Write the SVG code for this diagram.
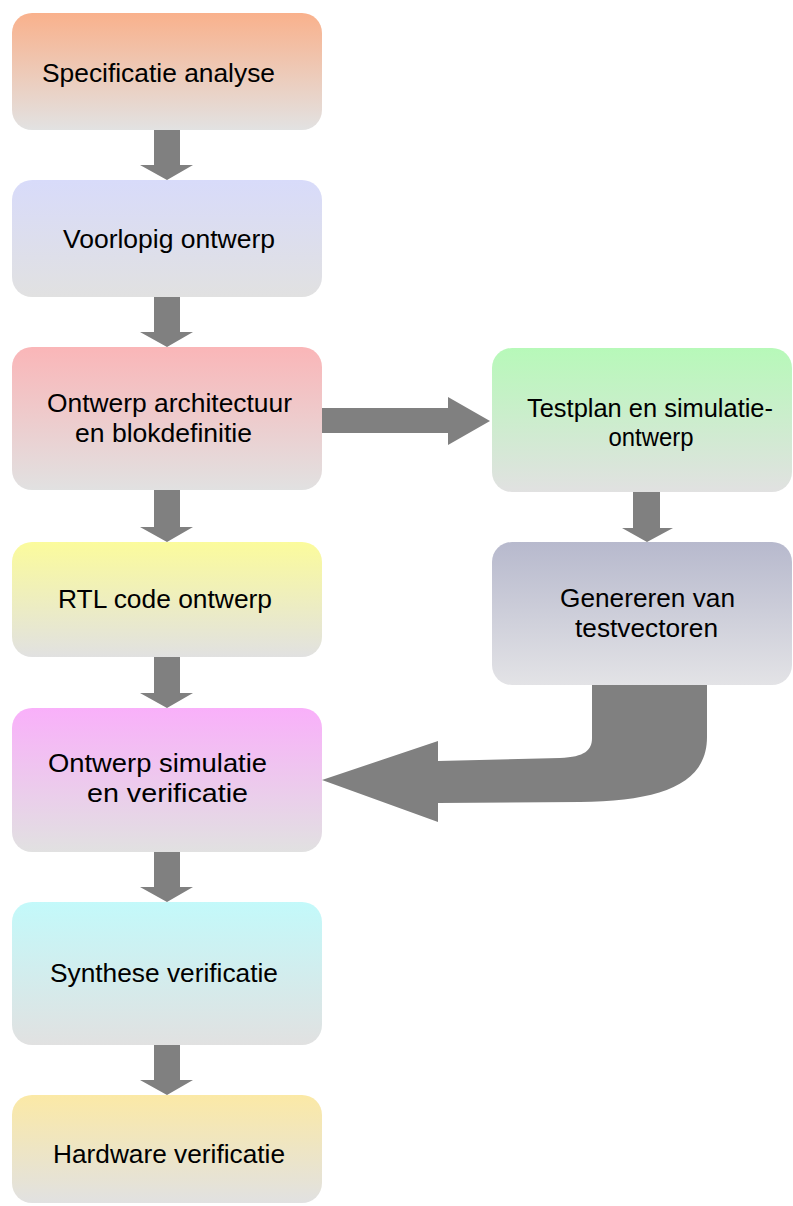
<svg xmlns="http://www.w3.org/2000/svg" width="793" height="1206" viewBox="0 0 793 1206">
<defs>
<linearGradient id="g1" x1="0" y1="0" x2="0" y2="1"><stop offset="0" stop-color="#f9b18c"/><stop offset="1" stop-color="#e2e2e2"/></linearGradient>
<linearGradient id="g2" x1="0" y1="0" x2="0" y2="1"><stop offset="0" stop-color="#d8dbfa"/><stop offset="1" stop-color="#e1e1e1"/></linearGradient>
<linearGradient id="g3" x1="0" y1="0" x2="0" y2="1"><stop offset="0" stop-color="#fab6b8"/><stop offset="1" stop-color="#e1e1e1"/></linearGradient>
<linearGradient id="g4" x1="0" y1="0" x2="0" y2="1"><stop offset="0" stop-color="#fbfb9c"/><stop offset="1" stop-color="#e1e1e1"/></linearGradient>
<linearGradient id="g5" x1="0" y1="0" x2="0" y2="1"><stop offset="0" stop-color="#f9b0fa"/><stop offset="1" stop-color="#e1e1e1"/></linearGradient>
<linearGradient id="g6" x1="0" y1="0" x2="0" y2="1"><stop offset="0" stop-color="#c3f9fa"/><stop offset="1" stop-color="#e1e1e1"/></linearGradient>
<linearGradient id="g7" x1="0" y1="0" x2="0" y2="1"><stop offset="0" stop-color="#fbe9a6"/><stop offset="1" stop-color="#e1e1e1"/></linearGradient>
<linearGradient id="g8" x1="0" y1="0" x2="0" y2="1"><stop offset="0" stop-color="#b7f9b9"/><stop offset="1" stop-color="#e1e1e1"/></linearGradient>
<linearGradient id="g9" x1="0" y1="0" x2="0" y2="1"><stop offset="0" stop-color="#b7b9cd"/><stop offset="1" stop-color="#e3e3e6"/></linearGradient>
</defs>
<style>
text{font-family:"Liberation Sans",Arial,sans-serif;font-size:25px;fill:#000;text-anchor:middle}
.arr{fill:#808080}
</style>
<rect width="793" height="1206" fill="#fff"/>
<g id="connectors">
<path class="arr" d="M154,130 H180 V165 H193 L167,180 L140,165 H154 Z"/>
<path class="arr" d="M154,297 H180 V332 H193 L167,347 L140,332 H154 Z"/>
<path class="arr" d="M154,490 H180 V527 H193 L167,542 L140,527 H154 Z"/>
<path class="arr" d="M154,657 H180 V693 H193 L167,708 L140,693 H154 Z"/>
<path class="arr" d="M154,852 H180 V887 H193 L167,902 L140,887 H154 Z"/>
<path class="arr" d="M154,1045 H180 V1080 H193 L167,1095 L140,1080 H154 Z"/>
<path class="arr" d="M322,408 H448 V397 L490,421 L448,445 V433 H322 Z"/>
<path class="arr" d="M633,492 H660 V528 H673 L647,542 L622,528 H633 Z"/>
<path class="arr" d="M592,685 H707 V737 C707,785 660,801 580,802 L438,803 V822 L322,780 L438,741 V761 L560,758 C585,757 592,750 592,738 Z"/>
</g>
<g id="n1"><rect x="12" y="13" width="310" height="117" rx="20" fill="url(#g1)"/><text x="158.5" y="82" textLength="233" lengthAdjust="spacingAndGlyphs">Specificatie analyse</text></g>
<g id="n2"><rect x="12" y="180" width="310" height="117" rx="20" fill="url(#g2)"/><text x="169" y="248" textLength="212" lengthAdjust="spacingAndGlyphs">Voorlopig ontwerp</text></g>
<g id="n3"><rect x="12" y="347" width="310" height="143" rx="20" fill="url(#g3)"/><text x="169.5" y="412" textLength="245" lengthAdjust="spacingAndGlyphs">Ontwerp architectuur</text><text x="163.5" y="442" textLength="177" lengthAdjust="spacingAndGlyphs">en blokdefinitie</text></g>
<g id="n4"><rect x="12" y="542" width="310" height="115" rx="20" fill="url(#g4)"/><text x="165" y="608" textLength="214" lengthAdjust="spacingAndGlyphs">RTL code ontwerp</text></g>
<g id="n5"><rect x="12" y="708" width="310" height="144" rx="20" fill="url(#g5)"/><text x="157.5" y="772" textLength="219" lengthAdjust="spacingAndGlyphs">Ontwerp simulatie</text><text x="167.5" y="802" textLength="161" lengthAdjust="spacingAndGlyphs">en verificatie</text></g>
<g id="n6"><rect x="12" y="902" width="310" height="143" rx="20" fill="url(#g6)"/><text x="164" y="982" textLength="228" lengthAdjust="spacingAndGlyphs">Synthese verificatie</text></g>
<g id="n7"><rect x="12" y="1095" width="310" height="108" rx="20" fill="url(#g7)"/><text x="169" y="1163" textLength="232" lengthAdjust="spacingAndGlyphs">Hardware verificatie</text></g>
<g id="n8"><rect x="492" y="348" width="300" height="144" rx="20" fill="url(#g8)"/><text x="650" y="417" textLength="246" lengthAdjust="spacingAndGlyphs">Testplan en simulatie-</text><text x="651" y="446" textLength="85" lengthAdjust="spacingAndGlyphs">ontwerp</text></g>
<g id="n9"><rect x="492" y="542" width="300" height="143" rx="20" fill="url(#g9)"/><text x="647.5" y="607" textLength="175" lengthAdjust="spacingAndGlyphs">Genereren van</text><text x="646.5" y="637" textLength="143" lengthAdjust="spacingAndGlyphs">testvectoren</text></g>
</svg>
